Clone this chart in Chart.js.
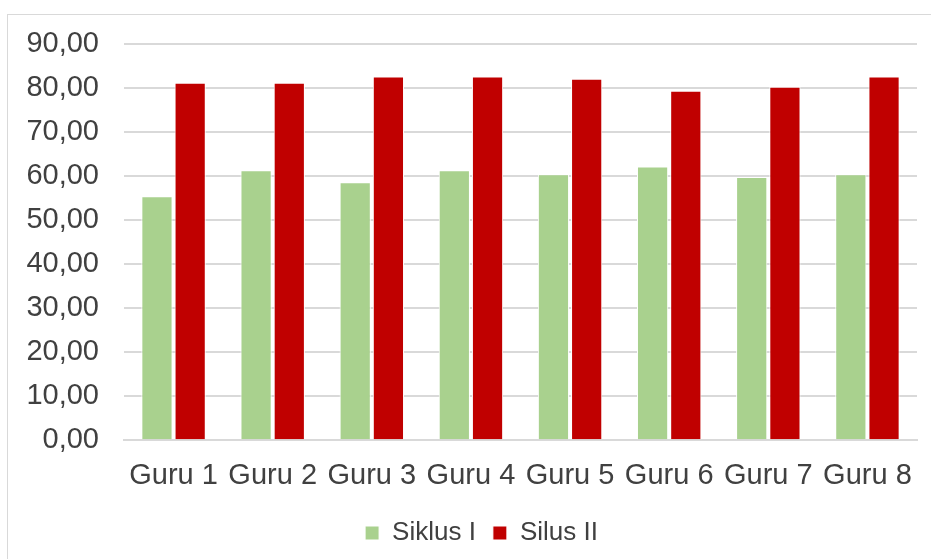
<!DOCTYPE html>
<html>
<head>
<meta charset="utf-8">
<script src="https://cdn.jsdelivr.net/npm/chart.js@4.4.0/dist/chart.umd.min.js"></script>
<style>
  body { margin: 0; background: #fff; }
  #wrap { position: relative; width: 931px; height: 559px; overflow: hidden; }
  #frame { position: absolute; left: 7px; top: 14px; width: 960px; height: 600px; border: 1px solid #d9d9d9; }
  canvas { position: absolute; left: 0; top: 0; }
</style>
</head>
<body>
<div id="wrap">
  <div id="frame"></div>
  <canvas id="barChart" width="931" height="559"></canvas>
</div>
<script>
const categories = ['Guru 1', 'Guru 2', 'Guru 3', 'Guru 4', 'Guru 5', 'Guru 6', 'Guru 7', 'Guru 8'];
const siklus1 = [55.4, 61.3, 58.6, 61.3, 60.4, 62.2, 59.8, 60.4];
const siklus2 = [81.2, 81.2, 82.6, 82.6, 82.1, 79.4, 80.3, 82.6];
const seriesNames = ['Siklus I', 'Silus II'];

// the legend in the original sits a bit right of the canvas centre
const shiftLegend = {
  id: 'shiftLegend',
  afterLayout(chart) {
    if (chart.legend) {
      chart.legend.left += 23;
      chart.legend.right += 23;
    }
  }
};

const ctx = document.getElementById('barChart');
new Chart(ctx, {
  type: 'bar',
  data: {
    labels: categories,
    datasets: [
      {
        label: seriesNames[0],
        data: siklus1,
        backgroundColor: '#a9d18e',
        borderColor: '#ffffff',
        borderWidth: 1,
        categoryPercentage: 0.67,
        barPercentage: 0.94
      },
      {
        label: seriesNames[1],
        data: siklus2,
        backgroundColor: '#c00000',
        borderColor: '#ffffff',
        borderWidth: 1,
        categoryPercentage: 0.67,
        barPercentage: 0.94
      }
    ]
  },
  options: {
    responsive: false,
    animation: false,
    layout: { padding: { top: 44, right: 14, left: 0, bottom: 3 } },
    plugins: {
      legend: {
        position: 'bottom',
        labels: {
          color: '#404040',
          font: { family: 'Liberation Sans, Arial', size: 26 },
          boxWidth: 14,
          boxHeight: 14,
          padding: 17
        }
      },
      tooltip: { enabled: false }
    },
    scales: {
      x: {
        grid: { display: false },
        border: { color: '#d9d9d9', width: 2 },
        ticks: {
          color: '#404040',
          font: { family: 'Liberation Sans, Arial', size: 29 },
          padding: 10,
          maxRotation: 0
        }
      },
      y: {
        min: 0,
        max: 90,
        afterFit: (scale) => { scale.width = 124; },
        grid: { color: '#d9d9d9', lineWidth: 2, drawTicks: false },
        border: { display: false },
        ticks: {
          stepSize: 10,
          color: '#404040',
          padding: 25,
          font: { family: 'Liberation Sans, Arial', size: 29 },
          callback: (v) => v.toFixed(2).replace('.', ',')
        }
      }
    }
  },
  plugins: [shiftLegend]
});
</script>
</body>
</html>
